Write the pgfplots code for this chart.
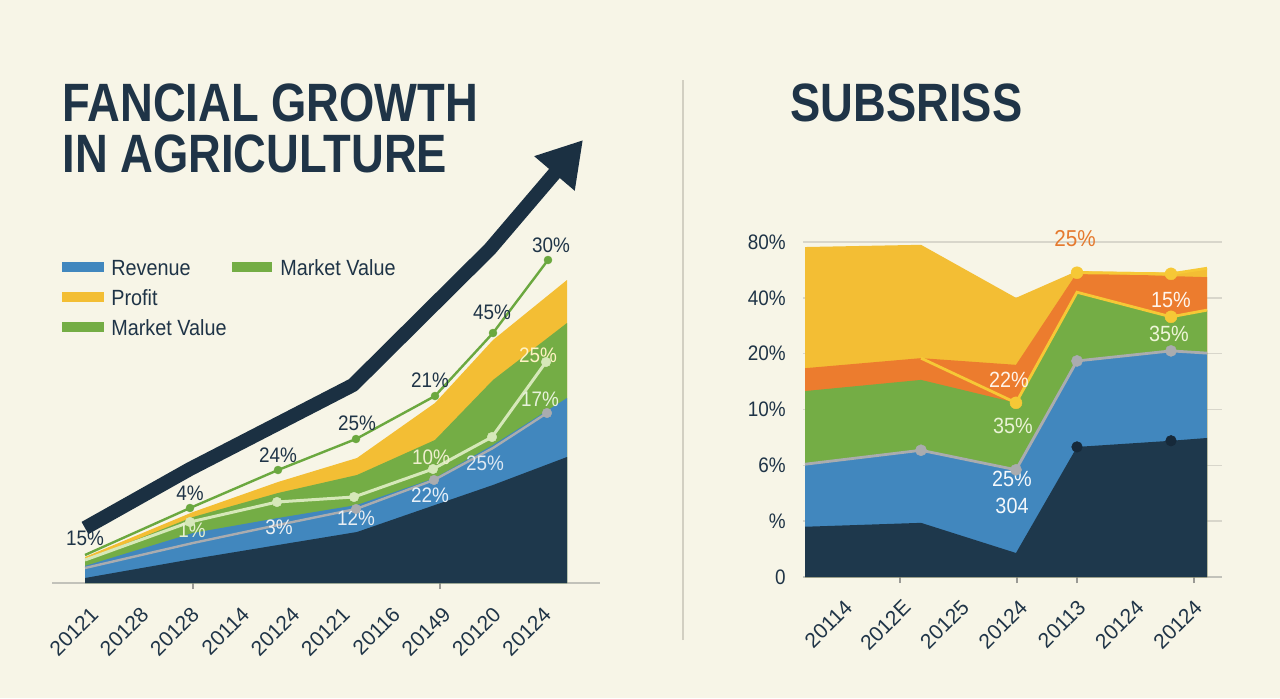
\documentclass[border=0pt]{standalone}
\usepackage{fontspec}
\usepackage{pgfplots}
\pgfplotsset{compat=1.18}
\usetikzlibrary{arrows.meta}
\setmainfont{Liberation Sans}
\newfontfamily\titlefont[FakeStretch=0.84]{Liberation Sans}
\newfontfamily\lblfont[FakeStretch=0.9]{Liberation Sans}
\newcommand\lbl[1]{\lblfont\fontsize{#1}{#1}\selectfont}
\newcommand\tck{\rmfamily\fontsize{10.5}{10.5}\selectfont}

\definecolor{bg}{HTML}{F7F5E7}
\definecolor{ink}{HTML}{1F3447}
\definecolor{navy}{HTML}{1E384C}
\definecolor{navydot}{HTML}{16293A}
\definecolor{arrowc}{HTML}{1B3042}
\definecolor{cblue}{HTML}{4187BE}
\definecolor{cgreen}{HTML}{74AD45}
\definecolor{cyellow}{HTML}{F3BE34}
\definecolor{corange}{HTML}{EC7C2E}
\definecolor{lgreen}{HTML}{6BA83F}
\definecolor{pale}{HTML}{D6E8B9}
\definecolor{cgray}{HTML}{AAACAF}
\definecolor{ylines}{HTML}{F6C836}
\definecolor{gridc}{HTML}{D8D6CB}
\definecolor{basec}{HTML}{C2C2BA}
\definecolor{tickc}{HTML}{9A9A95}
\definecolor{divc}{HTML}{D2CFC2}
\definecolor{orangetxt}{HTML}{E57A2F}

\begin{document}
\begin{tikzpicture}[x=1pt,y=1pt,
  lab/.style={inner sep=0pt, font=\lbl{10.5}},
  ttl/.style={anchor=base west, inner sep=0pt, text=ink, font=\titlefont\bfseries\fontsize{27}{30}\selectfont},
  leg/.style={anchor=base west, inner sep=0pt, text=ink, font=\lbl{11}}]
\path[use as bounding box] (0,0) rectangle (640,349);
\fill[bg] (0,0) rectangle (640,349);

% headings
\node[ttl] at (31,288) {FANCIAL GROWTH};
\node[ttl] at (31,263) {IN AGRICULTURE};
\node[ttl] at (395,288) {SUBSRISS};

% panel divider
\draw[divc, line width=1pt] (341.5,29) -- (341.5,309);

% legend of the left panel
\fill[cblue] (31,213) rectangle (52,218);
\node[leg] at (55.5,211.5) {Revenue};
\fill[cgreen] (116,213) rectangle (136,218);
\node[leg] at (140,211.5) {Market Value};
\fill[cyellow] (31,198) rectangle (52,203);
\node[leg] at (55.5,196.5) {Profit};
\fill[cgreen] (31,183) rectangle (52,188);
\node[leg] at (55.5,181.5) {Market Value};

% ---------------- left panel ----------------
\begin{axis}[
  at={(26pt,57.5pt)}, anchor=south west,
  width=274pt, height=175pt, scale only axis,
  xmin=52, xmax=600, ymin=0, ymax=70,
  clip=false,
  axis x line=bottom, axis y line=none,
  x axis line style={-, draw=basec, line width=1pt},
  xtick={89.3,139.6,189.9,240.2,290.5,340.8,391.1,441.4,491.7,542.0},
  xticklabels={20121,20128,20128,20114,20124,20121,20116,20149,20120,20124},
  major tick length=0pt,
  xticklabel style={yshift=-11pt, rotate=45, anchor=north east, inner sep=0pt, text=ink, font=\tck},
  extra x ticks={193,440}, extra x tick labels={},
  extra x tick style={major tick length=3pt, tick align=outside, tick style={draw=tickc, line width=0.7pt}},
  /pgf/number format/assume math mode=true,
]
% stacked layers, drawn from the top layer down
\addplot[fill=cyellow, draw=none] coordinates {(85,5.2) (193,14.2) (278,20.2) (357,25.0) (435,36.0) (493,48.6) (567,60.6)} \closedcycle;
\addplot[fill=cgreen, draw=none] coordinates {(85,4.6) (193,13.2) (278,18.0) (357,21.6) (435,28.6) (493,40.6) (567,52.0)} \closedcycle;
\addplot[fill=cblue, draw=none] coordinates {(85,3.4) (193,10.0) (278,13.0) (357,15.6) (435,21.0) (493,27.6) (567,37.0)} \closedcycle;
\addplot[fill=navy, draw=none] coordinates {(85,1.0) (193,4.8) (278,7.6) (357,10.2) (435,15.6) (493,19.6) (567,25.2)} \closedcycle;

% trend lines
\addplot[cgray, line width=1.2pt, mark=*, mark size=2.4pt, mark indices={4,5,7}, mark options={line width=0.2pt}]
  coordinates {(85,3.0) (193,8.0) (278,11.6) (356,14.8) (434,20.6) (493,27.0) (547,34.0)};
\addplot[pale, line width=1.5pt, mark=*, mark size=2.4pt, mark indices={2,3,4,5,6,7}, mark options={line width=0.2pt}]
  coordinates {(85,4.6) (190,12.2) (277,16.2) (354,17.2) (433,22.8) (492,29.2) (546,44.2)};
\addplot[lgreen, line width=1.2pt, mark=*, mark size=2pt, mark indices={2,3,4,5,6,7}, mark options={line width=0.2pt}]
  coordinates {(85,5.6) (190,15.0) (278,22.6) (356,28.8) (435,37.4) (493,50.0) (548,64.6)};

% growth arrow
\addplot[arrowc, line width=7pt, line join=round, -{Triangle[length=22pt,width=25pt]}]
  coordinates {(85,11.0) (190,22.8) (353,39.6) (490,66.8) (583,88.6)};

% value labels
\node[lab, text=ink] at (85,9.0) {15\%};
\node[lab, text=ink] at (190,18.0) {4\%};
\node[lab, text=ink] at (278,25.6) {24\%};
\node[lab, text=ink] at (357,32.0) {25\%};
\node[lab, text=ink] at (430,40.6) {21\%};
\node[lab, text=ink] at (492,54.2) {45\%};
\node[lab, text=ink] at (551,67.6) {30\%};
\node[lab, text={rgb,255:red,230;green,239;blue,208}] at (192,10.6) {1\%};
\node[lab, text={rgb,255:red,236;green,241;blue,245}] at (279,11.2) {3\%};
\node[lab, text={rgb,255:red,232;green,238;blue,243}] at (356,13.0) {12\%};
\node[lab, text={rgb,255:red,239;green,239;blue,207}] at (431,25.2) {10\%};
\node[lab, text={rgb,255:red,232;green,240;blue,248}] at (430,17.6) {22\%};
\node[lab, text={rgb,255:red,220;green,232;blue,242}] at (485,24.0) {25\%};
\node[lab, text={rgb,255:red,255;green,242;blue,196}] at (538,45.6) {25\%};
\node[lab, text={rgb,255:red,232;green,242;blue,220}] at (540,36.8) {17\%};
\end{axis}

% ---------------- right panel ----------------
\begin{axis}[
  at={(401.5pt,60.5pt)}, anchor=south west,
  width=209.5pt, height=167.5pt, scale only axis,
  xmin=803, xmax=1222, ymin=0, ymax=6,
  clip=false,
  axis x line=bottom, axis y line=left,
  x axis line style={-, draw=basec, line width=1pt},
  y axis line style={draw=none},
  ytick={0,1,2,3,4,5,6}, yticklabels={0,\%,6\%,10\%,20\%,40\%,80\%},
  ymajorgrids, grid style={draw=gridc, line width=0.8pt},
  major tick length=0pt,
  yticklabel style={anchor=east, inner sep=0pt, xshift=-8.5pt, text=ink, font=\lbl{10.5}},
  xtick={843.3,901.6,959.9,1018.2,1076.5,1134.8,1193.1},
  xticklabels={20114,2012E,20125,20124,20113,20124,20124},
  xticklabel style={yshift=-10.5pt, rotate=45, anchor=north east, inner sep=0pt, text=ink, font=\tck},
  extra x ticks={900,1017,1077,1194}, extra x tick labels={},
  extra x tick style={major tick length=3pt, tick align=outside, tick style={draw=tickc, line width=0.7pt}},
  /pgf/number format/assume math mode=true,
]
\addplot[fill=cyellow, draw=none] coordinates {(805,5.91) (921,5.95) (1016,5.00) (1077,5.48) (1171,5.45) (1207,5.53)} \closedcycle;
\addplot[fill=corange, draw=none] coordinates {(805,3.74) (921,3.92) (1016,3.80) (1077,5.45) (1171,5.39) (1207,5.37)} \closedcycle;
\addplot[fill=cgreen, draw=none] coordinates {(805,3.33) (921,3.53) (1016,3.12) (1077,5.10) (1171,4.66) (1207,4.78)} \closedcycle;
\addplot[fill=cblue, draw=none] coordinates {(805,2.02) (921,2.27) (1016,1.92) (1077,3.87) (1171,4.05) (1207,4.01)} \closedcycle;
\addplot[fill=navy, draw=none] coordinates {(805,0.90) (921,0.97) (1016,0.43) (1077,2.33) (1171,2.44) (1207,2.49)} \closedcycle;

\addplot[cgray, line width=1.4pt, mark=*, mark size=2.8pt, mark indices={2,3,4,5}, mark options={line width=0.2pt}]
  coordinates {(805,2.02) (921,2.27) (1016,1.92) (1077,3.87) (1171,4.05) (1207,4.01)};
\addplot[only marks, navydot, mark=*, mark size=2.6pt]
  coordinates {(1077,2.33) (1171,2.44)};
\addplot[ylines, line width=1.4pt, mark=*, mark size=3pt, mark indices={2,4}, mark options={line width=0.2pt}]
  coordinates {(921,3.92) (1016,3.12) (1077,5.10) (1171,4.66) (1207,4.78)};
\addplot[ylines, line width=1.4pt, mark=*, mark size=3pt, mark indices={1,2}, mark options={line width=0.2pt}]
  coordinates {(1077,5.45) (1171,5.43) (1207,5.53)};

\node[lab, text=orangetxt, font=\lbl{11.5}] at (1075,6.07) {25\%};
\node[lab, text={rgb,255:red,255;green,245;blue,236}, font=\lbl{11}] at (1171,4.96) {15\%};
\node[lab, text={rgb,255:red,238;green,245;blue,216}, font=\lbl{11}] at (1169,4.35) {35\%};
\node[lab, text={rgb,255:red,255;green,243;blue,232}, font=\lbl{11}] at (1009,3.53) {22\%};
\node[lab, text={rgb,255:red,234;green,243;blue,214}, font=\lbl{11}] at (1013,2.70) {35\%};
\node[lab, text={rgb,255:red,244;green,248;blue,251}, font=\lbl{11}] at (1012,1.76) {25\%};
\node[lab, text={rgb,255:red,244;green,248;blue,251}, font=\lbl{11}] at (1012,1.27) {304};
\end{axis}
\end{tikzpicture}
\end{document}
